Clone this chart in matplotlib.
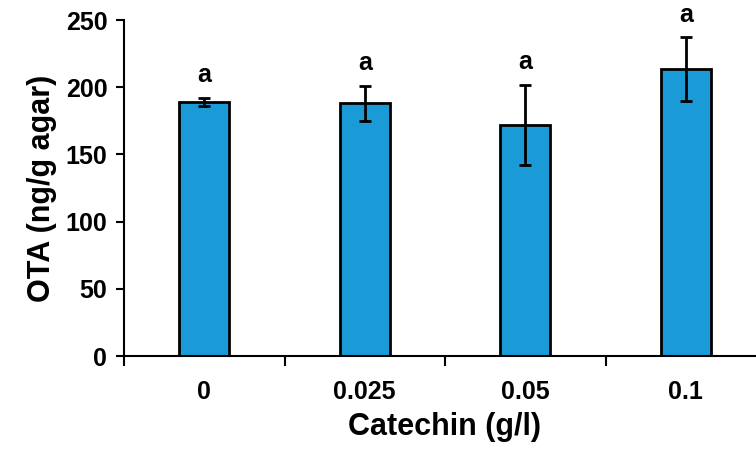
import matplotlib as mpl
mpl.use('Agg')
import matplotlib.pyplot as plt
import numpy as np

categories = ['0', '0.025', '0.05', '0.1']
ota_mean = [189, 188, 172, 213.5]
ota_err = [3, 13, 30, 23.5]
letters = ['a', 'a', 'a', 'a']

plt.rcParams['font.family'] = ['Liberation Sans', 'DejaVu Sans']
plt.rcParams['font.weight'] = 'bold'

fig = plt.figure(figsize=(7.56, 4.49), dpi=100)
ax = fig.add_axes([124/756, (449-356)/449, 642/756, 336/449])

x = np.arange(len(categories))
ax.bar(x, ota_mean, width=0.31, color='#1A9AD6', edgecolor='black', linewidth=2,
       yerr=ota_err, error_kw=dict(ecolor='black', elinewidth=2, capsize=4, capthick=2))

for xi, m, e, lab in zip(x, ota_mean, ota_err, letters):
    ax.text(xi, m + e + 8, lab, ha='center', va='bottom', fontsize=18, fontweight='bold')

ax.set_xlim(-0.5, 3.5)
ax.set_ylim(0, 250)
ax.set_yticks([0, 50, 100, 150, 200, 250])
ax.set_xticks(x)
ax.set_xticklabels(categories)
ax.set_xticks(np.arange(-0.5, 3.6, 1), minor=True)
ax.tick_params(axis='x', which='major', length=0, pad=17, labelsize=18)
ax.tick_params(axis='x', which='minor', length=7, width=1.5, direction='out')
ax.tick_params(axis='y', length=6, width=1.5, direction='out', labelsize=18, pad=6)

for s in ['top', 'right']:
    ax.spines[s].set_visible(False)
ax.spines['left'].set_linewidth(1.5)
ax.spines['bottom'].set_linewidth(1.5)

ax.set_xlabel('Catechin (g/l)', fontsize=22, fontweight='bold', labelpad=6)
ax.set_ylabel('OTA (ng/g agar)', fontsize=22, fontweight='bold', labelpad=6)

plt.savefig('out.png', dpi=100)
